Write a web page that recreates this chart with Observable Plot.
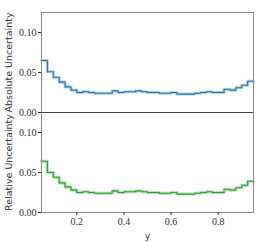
<!DOCTYPE html>
<html>
<head>
<meta charset="utf-8">
<script src="https://cdn.jsdelivr.net/npm/d3@7"></script>
<script src="https://cdn.jsdelivr.net/npm/@observablehq/plot@0.6"></script>
<style>
  html, body { margin: 0; padding: 0; background: #fff; }
  #wrap { position: relative; width: 266px; height: 242px; }
  #top, #bot { position: absolute; left: 0; }
  #top { top: 0; z-index: 2; }
  #bot { top: 110px; z-index: 1; }
  g[aria-label="y-axis tick label"] text, g[aria-label="x-axis tick label"] text { font-family: "Liberation Serif", "DejaVu Serif", serif; font-size: 10px; }
  g[aria-label="y-axis label"] text, g[aria-label="x-axis label"] text { font-family: "DejaVu Sans", sans-serif; font-size: 9.5px; }
</style>
</head>
<body>
<div id="wrap"><div id="top"></div><div id="bot"></div></div>
<script>
// Bin edges along y (left edges, plus the final right edge)
const binEdges = [0.05, 0.075, 0.1, 0.125, 0.15, 0.175, 0.2, 0.225, 0.25, 0.275,
  0.3, 0.325, 0.35, 0.375, 0.4, 0.425, 0.45, 0.475, 0.5, 0.525,
  0.55, 0.575, 0.6, 0.625, 0.65, 0.675, 0.7, 0.725, 0.75, 0.775,
  0.8, 0.825, 0.85, 0.875, 0.9, 0.925, 0.95];
// Absolute uncertainty per bin (36 bins)
const absUnc = [0.065, 0.051, 0.044, 0.038, 0.032, 0.028, 0.025, 0.026, 0.025, 0.024,
  0.024, 0.024, 0.027, 0.025, 0.026, 0.026, 0.027, 0.026, 0.025, 0.025,
  0.024, 0.024, 0.025, 0.023, 0.023, 0.023, 0.024, 0.025, 0.026, 0.025,
  0.025, 0.029, 0.028, 0.031, 0.034, 0.039];
// Relative uncertainty per bin (36 bins)
const relUnc = [0.064, 0.050, 0.044, 0.037, 0.032, 0.028, 0.025, 0.026, 0.025, 0.024,
  0.024, 0.024, 0.027, 0.025, 0.026, 0.026, 0.027, 0.026, 0.025, 0.025,
  0.024, 0.024, 0.025, 0.023, 0.023, 0.023, 0.024, 0.025, 0.026, 0.025,
  0.025, 0.029, 0.028, 0.031, 0.034, 0.039];
const yTicks = [0, 0.05, 0.1];
const xTicks = [0.2, 0.4, 0.6, 0.8];

function stepData(vals) {
  return binEdges.map((e, i) => ({x: e, v: vals[Math.min(i, vals.length - 1)]}));
}

const serif = "'Liberation Serif', 'DejaVu Serif', serif";

function panel(vals, color, label, isBottom) {
  const data = stepData(vals);
  const marks = [
    Plot.lineY(data, {x: "x", y: "v", curve: "step-after", stroke: color, strokeWidth: 3, strokeOpacity: 0.35}),
    Plot.lineY(data, {x: "x", y: "v", curve: "step-after", stroke: color, strokeWidth: 1.1}),
    Plot.frame({stroke: "#888", strokeWidth: 1}),
    Plot.axisY({ticks: yTicks, tickFormat: ".2f", tickSize: 3, tickPadding: 2, fontFamily: serif,
      label: label, labelAnchor: "center", labelArrow: "none", labelOffset: 36})
  ];
  if (isBottom) {
    marks.push(Plot.axisX({ticks: xTicks, tickFormat: ".1f", tickSize: 3, tickPadding: 2, fontFamily: serif,
      label: "y", labelAnchor: "center", labelArrow: "none", labelOffset: 26}));
  } else {
    marks.push(Plot.ruleY([0], {stroke: "#444", strokeWidth: 1}));
  }
  return Plot.plot({
    width: 266, marginLeft: 41, marginRight: 13,
    height: isBottom ? 132 : 122,
    marginTop: isBottom ? 2 : 12,
    marginBottom: isBottom ? 30 : 10,
    style: {fontFamily: serif, fontSize: "10px", color: "#333", background: isBottom ? "#fff" : "transparent", overflow: "visible"},
    x: {domain: [0.05, 0.95], axis: null},
    y: {domain: [0, 0.125], axis: null},
    marks
  });
}

document.getElementById("top").appendChild(panel(absUnc, "#1f77b4", "Absolute Uncertainty", false));
document.getElementById("bot").appendChild(panel(relUnc, "#2ca02c", "Relative Uncertainty", true));
</script>
</body>
</html>
